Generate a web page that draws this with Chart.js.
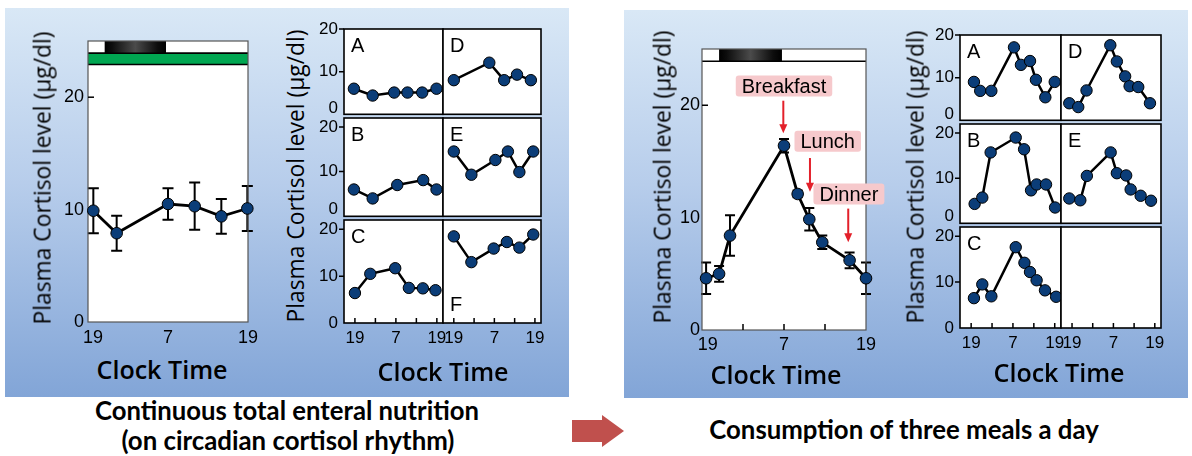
<!DOCTYPE html>
<html>
<head>
<meta charset="utf-8">
<script src="https://cdn.jsdelivr.net/npm/chart.js@4.4.1/dist/chart.umd.min.js"></script>
<style>
html,body{margin:0;padding:0;background:#fff;}
#stage{position:relative;width:1192px;height:456px;overflow:hidden;background:#fff;}
.bg{position:absolute;background:linear-gradient(to bottom,#d9e8f6 0%,#b7cdeb 45%,#82a5d7 100%);}
canvas{position:absolute;}
.txt{position:absolute;white-space:nowrap;color:#000;line-height:1;}
</style>
</head>
<body>
<div id="stage">
  <div class="bg" style="left:5px;top:8px;width:564px;height:389px"></div>
  <div class="bg" style="left:624px;top:10px;width:564px;height:388px"></div>
  <svg style="position:absolute;left:0;top:0" width="1192" height="456">
    <polygon points="572,420 602,420 602,415 624,431 602,447 602,442 572,442" fill="#c0504d"/>
  </svg>
</div>
<script>
// ---------- axes (x = hours after 19:00) ----------
const timeTickValues = [0, 6, 12, 18, 24];
const timeTickLabels = ['19', '', '7', '', '19'];
const cortisolTickValues = [0, 10, 20];
const cortisolTickLabels = ['0', '10', '20'];

// ---------- continuous total enteral nutrition: mean ± SD ----------
const enteralHours = [0.8, 4.3, 12, 16, 20, 23.9];
const enteralMean  = [9.9, 7.9, 10.5, 10.3, 9.4, 10.1];
const enteralSD    = [2.0, 1.55, 1.4, 2.1, 1.55, 2.0];
const sleepHours   = [2.5, 11.7];
const feedingHours = [0, 24];
const dayBarLevels = [23.9, 25];
const feedBarLevels = [22.9, 23.9];

// individual patients, enteral nutrition
const entAHours = [-0.3, 5.2, 11.5, 15.4, 19.7, 23.9];
const entA      = [6.0, 4.4, 5.1, 5.1, 5.1, 6.0];
const entBHours = [-0.3, 5.2, 12.4, 20, 23.9];
const entB      = [6.0, 4.0, 7.0, 8.1, 6.0];
const entCHours = [0, 4.5, 11.8, 15.8, 19.9, 23.6];
const entC      = [6.4, 10.5, 11.7, 7.5, 7.4, 7.0];
const entDHours = [0, 10.5, 14.9, 18.7, 22.8];
const entD      = [8.0, 12.1, 8.0, 9.3, 8.0];
const entEHours = [0, 5.2, 12.3, 16, 19.4, 23.5];
const entE      = [14.5, 9.3, 12.6, 14.5, 9.9, 14.5];
const entFHours = [0, 5.2, 11.8, 15.7, 19.4, 23.5];
const entF      = [18.5, 13.0, 15.9, 17.3, 16.1, 18.9];

// ---------- three meals a day: mean ± SD ----------
const mealsHours = [0.6, 2.5, 4.1, 12.0, 14.0, 15.7, 17.6, 21.6, 24];
const mealsMean  = [4.6, 5.0, 8.4, 16.4, 12.1, 9.85, 7.8, 6.2, 4.6];
const mealsSD    = [1.4, 0.7, 1.8, 0.6, 0.3, 1.0, 0.6, 0.7, 1.4];
const mealNames       = ['Breakfast', 'Lunch', 'Dinner'];
const mealLabelHours  = [12.0, 18.4, 21.5];
const mealLabelLevels = [21.7, 16.8, 12.1];
const mealArrowHours  = [11.9, 15.8, 21.4];
const mealArrowFrom   = [20.4, 15.3, 10.8];
const mealArrowTo     = [17.5, 12.3, 7.8];

// individual patients, three meals
const mealAHours = [0.8, 2.6, 5.8, 12.3, 14.3, 16.9, 18.6, 21.3, 24.0];
const mealA      = [9.0, 6.9, 6.9, 17.1, 13.0, 13.9, 9.5, 5.4, 9.0];
const mealBHours = [1.0, 3.2, 5.6, 12.8, 15.2, 17.2, 18.8, 21.5, 24.1];
const mealB      = [4.3, 5.7, 15.7, 19.0, 16.4, 7.3, 8.6, 8.6, 3.5];
const mealCHours = [0.8, 3.2, 5.8, 12.8, 15.3, 16.9, 18.8, 21.2, 24.4];
const mealC      = [6.5, 9.5, 6.9, 17.6, 14.2, 12.2, 10.4, 8.2, 6.8];
const mealDHours = [-0.8, 1.8, 4.2, 11.1, 13.0, 15.4, 16.7, 19.2, 22.6];
const mealD      = [4.0, 3.1, 7.0, 17.6, 13.8, 10.3, 8.0, 7.8, 4.0];
const mealEHours = [-0.8, 2.4, 4.3, 11.2, 13.0, 15.7, 17.0, 19.9, 22.9];
const mealE      = [5.5, 5.1, 10.5, 15.7, 11.1, 10.6, 7.5, 6.1, 5.0];

// ---------- rendering ----------
const stage = document.getElementById('stage');
Chart.defaults.color = '#000';
Chart.defaults.font.family = "'Liberation Sans', Arial, sans-serif";
Chart.defaults.animation = false;

function decoPlugin(d) {
  return {
    id: 'deco',
    beforeDraw(chart) {
      const {ctx, chartArea: a} = chart;
      ctx.save(); ctx.fillStyle = '#fff';
      ctx.fillRect(a.left, a.top, a.width, a.height); ctx.restore();
    },
    beforeDatasetsDraw(chart) {
      const {ctx, chartArea: a, scales: {x, y}} = chart;
      ctx.save();
      if (d.feed) {
        const x0 = x.getPixelForValue(d.feed.hours[0]), x1 = x.getPixelForValue(d.feed.hours[1]);
        const y0 = y.getPixelForValue(d.feed.levels[1]), y1 = y.getPixelForValue(d.feed.levels[0]);
        ctx.fillStyle = '#00a651'; ctx.fillRect(x0, y0, x1 - x0, y1 - y0);
        ctx.strokeStyle = '#000'; ctx.lineWidth = 1.5;
        ctx.beginPath(); ctx.moveTo(x0, y0); ctx.lineTo(x1, y0); ctx.moveTo(x0, y1); ctx.lineTo(x1, y1); ctx.stroke();
      }
      if (d.sleep) {
        const x0 = x.getPixelForValue(d.sleep.hours[0]), x1 = x.getPixelForValue(d.sleep.hours[1]);
        const y0 = y.getPixelForValue(d.sleep.levels[1]), y1 = y.getPixelForValue(d.sleep.levels[0]);
        const g = ctx.createLinearGradient(x0, 0, x1, 0);
        g.addColorStop(0, '#000'); g.addColorStop(0.12, '#0d0d0d'); g.addColorStop(0.5, '#4b4b4b');
        g.addColorStop(0.86, '#0d0d0d'); g.addColorStop(1, '#000');
        ctx.fillStyle = g; ctx.fillRect(x0, y0, x1 - x0, y1 - y0);
        ctx.strokeStyle = '#000'; ctx.lineWidth = 1.5;
        ctx.beginPath(); ctx.moveTo(a.left, y1); ctx.lineTo(a.right, y1); ctx.stroke();
      }
      if (d.err) {
        ctx.strokeStyle = '#000'; ctx.lineWidth = 2;
        d.err.hours.forEach((h, i) => {
          const px = x.getPixelForValue(h);
          const t = y.getPixelForValue(d.err.mean[i] + d.err.sd[i]);
          const b = y.getPixelForValue(d.err.mean[i] - d.err.sd[i]);
          ctx.beginPath();
          ctx.moveTo(px, t); ctx.lineTo(px, b);
          ctx.moveTo(px - d.err.cap, t); ctx.lineTo(px + d.err.cap, t);
          ctx.moveTo(px - d.err.cap, b); ctx.lineTo(px + d.err.cap, b);
          ctx.stroke();
        });
      }
      // frame
      ctx.strokeStyle = d.frameColor; ctx.lineWidth = d.frameWidth;
      ctx.strokeRect(a.left, a.top, a.width, a.height);
      // tick marks
      ctx.strokeStyle = '#000'; ctx.lineWidth = 1.5;
      ctx.beginPath();
      (d.xTicksIn || []).forEach(v => {
        const px = x.getPixelForValue(v);
        ctx.moveTo(px, a.bottom); ctx.lineTo(px, a.bottom - d.tickLen);
      });
      (d.yTicksIn || []).forEach(v => {
        const py = y.getPixelForValue(v);
        ctx.moveTo(a.left, py); ctx.lineTo(a.left + d.tickLen, py);
      });
      (d.yTicksOut || []).forEach(v => {
        const py = y.getPixelForValue(v);
        ctx.moveTo(a.left, py); ctx.lineTo(a.left - d.tickLen, py);
      });
      ctx.stroke();
      if (d.letter) {
        ctx.fillStyle = '#000';
        ctx.font = "20px 'Liberation Sans', Arial, sans-serif";
        ctx.textBaseline = 'alphabetic'; ctx.textAlign = 'left';
        const ly = d.letterAtBottom ? a.bottom - 12 : a.top + 23;
        ctx.fillText(d.letter, a.left + 7, ly);
      }
      ctx.restore();
    },
    afterDatasetsDraw(chart) {
      if (!d.notes) return;
      const {ctx, scales: {x, y}} = chart;
      ctx.save();
      ctx.font = "20px 'Liberation Sans', Arial, sans-serif";
      ctx.textAlign = 'center'; ctx.textBaseline = 'middle';
      d.notes.names.forEach((name, i) => {
        const ax = x.getPixelForValue(d.notes.arrowX[i]);
        const ay0 = y.getPixelForValue(d.notes.arrowFrom[i]);
        const ay1 = y.getPixelForValue(d.notes.arrowTo[i]);
        ctx.strokeStyle = '#e3202a'; ctx.fillStyle = '#e3202a'; ctx.lineWidth = 2;
        ctx.beginPath(); ctx.moveTo(ax, ay0); ctx.lineTo(ax, ay1 - 8); ctx.stroke();
        ctx.beginPath(); ctx.moveTo(ax - 4, ay1 - 9); ctx.lineTo(ax + 4, ay1 - 9); ctx.lineTo(ax, ay1); ctx.closePath(); ctx.fill();
        const cx = x.getPixelForValue(d.notes.labelX[i]);
        const cy = y.getPixelForValue(d.notes.labelY[i]);
        const w = ctx.measureText(name).width + 12, h = 21;
        ctx.fillStyle = '#f6c9cc';
        ctx.beginPath();
        if (ctx.roundRect) ctx.roundRect(cx - w / 2, cy - h / 2, w, h, 3); else ctx.rect(cx - w / 2, cy - h / 2, w, h);
        ctx.fill();
        ctx.fillStyle = '#000';
        ctx.fillText(name, cx, cy + 1);
      });
      ctx.restore();
    }
  };
}

function makeChart(o) {
  const m = o.margin, a = o.area;
  const cv = document.createElement('canvas');
  const W = a.w + m.l + m.r, H = a.h + m.t + m.b;
  cv.width = W; cv.height = H;
  cv.style.left = (a.l - m.l) + 'px'; cv.style.top = (a.t - m.t) + 'px';
  cv.style.width = W + 'px'; cv.style.height = H + 'px';
  stage.appendChild(cv);
  const datasets = o.series.map(s => ({
    data: s.x.map((xv, i) => ({x: xv, y: s.y[i]})),
    borderColor: '#000', borderWidth: o.lineWidth, tension: 0,
    pointRadius: o.radius, pointHoverRadius: o.radius,
    pointBackgroundColor: '#0b3d78', pointBorderColor: '#000', pointBorderWidth: 1,
    clip: false
  }));
  const xShift = o.firstXLabelShift || 0, yRaise = o.zeroLabelRaise || 0;
  new Chart(cv, {
    type: 'line',
    data: {datasets},
    plugins: [decoPlugin(o.deco)],
    options: {
      responsive: false, devicePixelRatio: 1, animation: false,
      events: [],
      layout: {padding: {left: o.showY ? 0 : m.l, right: m.r, top: m.t, bottom: o.showX ? 0 : m.b}},
      plugins: {legend: {display: false}, tooltip: {enabled: false}},
      scales: {
        x: {
          type: 'linear', min: o.xMin, max: o.xMax, display: o.showX,
          afterBuildTicks: s => { s.ticks = timeTickValues.map((v, i) => ({value: i === 0 ? v + xShift : v})); },
          afterFit: s => { s.height = o.showX ? m.b : 0; s.paddingLeft = 0; s.paddingRight = 0; },
          ticks: {autoSkip: false, maxRotation: 0, minRotation: 0, padding: o.xPad, color: '#000',
                  font: {size: o.fontSize},
                  callback: (v, i) => timeTickLabels[i]},
          grid: {display: false, drawTicks: false}, border: {display: false}
        },
        y: {
          type: 'linear', min: 0, max: o.yMax, display: o.showY,
          afterBuildTicks: s => { s.ticks = cortisolTickValues.map((v, i) => ({value: i === 0 ? v + yRaise : v})); },
          afterFit: s => { s.width = o.showY ? m.l : 0; s.paddingTop = 0; s.paddingBottom = 0; },
          ticks: {autoSkip: false, padding: o.yPad, font: {size: o.fontSize}, color: '#000',
                  callback: (v, i) => cortisolTickLabels[i]},
          grid: {display: false, drawTicks: false}, border: {display: false}
        }
      }
    }
  });
}

// ---- main chart: continuous enteral nutrition ----
makeChart({
  area: {l: 88, t: 41, w: 160, h: 281}, margin: {l: 40, t: 12, r: 16, b: 30},
  xMin: 0, xMax: 24, yMax: 25, showX: true, showY: true, fontSize: 18, xPad: 5, yPad: 4,
  firstXLabelShift: 0.75,
  radius: 5.8, lineWidth: 2.8,
  series: [{x: enteralHours, y: enteralMean}],
  deco: {frameColor: '#555', frameWidth: 1.2, tickLen: 6, yTicksIn: [20],
         sleep: {hours: sleepHours, levels: dayBarLevels},
         feed: {hours: feedingHours, levels: feedBarLevels},
         err: {hours: enteralHours, mean: enteralMean, sd: enteralSD, cap: 5.5}}
});

// ---- main chart: three meals ----
makeChart({
  area: {l: 702, t: 49, w: 164, h: 281}, margin: {l: 40, t: 12, r: 26, b: 30},
  xMin: 0, xMax: 24, yMax: 25, showX: true, showY: true, fontSize: 18, xPad: 4, yPad: 2,
  firstXLabelShift: 0.85,
  radius: 5.8, lineWidth: 2.8,
  series: [{x: mealsHours, y: mealsMean}],
  deco: {frameColor: '#555', frameWidth: 1.2, tickLen: 6, yTicksIn: [20], xTicksIn: [6, 12, 18],
         sleep: {hours: sleepHours, levels: dayBarLevels},
         err: {hours: mealsHours, mean: mealsMean, sd: mealsSD, cap: 5},
         notes: {names: mealNames, labelX: mealLabelHours, labelY: mealLabelLevels,
                 arrowX: mealArrowHours, arrowFrom: mealArrowFrom, arrowTo: mealArrowTo}}
});

// ---- small multiples ----
function smallPanel(area, col, row, letter, hours, vals, bottomLetter) {
  const showY = col === 0, showX = row === 2;
  makeChart({
    area, margin: {l: 30, t: 12, r: 12, b: showX ? 28 : 3},
    xMin: -3.2, xMax: 25.8, yMax: row === 0 ? 20 : 22, showX, showY, fontSize: 17, xPad: 5, yPad: 6,
    zeroLabelRaise: row === 2 ? 0 : 1.5,
    radius: 5.7, lineWidth: 2.5,
    series: hours ? [{x: hours, y: vals}] : [],
    deco: {frameColor: '#000', frameWidth: 1.6, tickLen: 5,
           yTicksOut: showY ? [10, 20] : [], xTicksIn: showX ? timeTickValues : [],
           letter, letterAtBottom: bottomLetter}
  });
}
const entCols = [{l: 344, w: 99}, {l: 443, w: 98}];
const entRows = [{t: 29, h: 89}, {t: 118, h: 102}, {t: 220, h: 103}];
const mealCols = [{l: 960, w: 101}, {l: 1061, w: 100}];
const mealRows = [{t: 35, h: 89}, {t: 124, h: 103}, {t: 227, h: 101}];
const A = (c, r) => ({l: c.l, w: c.w, t: r.t, h: r.h});

smallPanel(A(entCols[0], entRows[0]), 0, 0, 'A', entAHours, entA);
smallPanel(A(entCols[1], entRows[0]), 1, 0, 'D', entDHours, entD);
smallPanel(A(entCols[0], entRows[1]), 0, 1, 'B', entBHours, entB);
smallPanel(A(entCols[1], entRows[1]), 1, 1, 'E', entEHours, entE);
smallPanel(A(entCols[0], entRows[2]), 0, 2, 'C', entCHours, entC);
smallPanel(A(entCols[1], entRows[2]), 1, 2, 'F', entFHours, entF, true);

smallPanel(A(mealCols[0], mealRows[0]), 0, 0, 'A', mealAHours, mealA);
smallPanel(A(mealCols[1], mealRows[0]), 1, 0, 'D', mealDHours, mealD);
smallPanel(A(mealCols[0], mealRows[1]), 0, 1, 'B', mealBHours, mealB);
smallPanel(A(mealCols[1], mealRows[1]), 1, 1, 'E', mealEHours, mealE);
smallPanel(A(mealCols[0], mealRows[2]), 0, 2, 'C', mealCHours, mealC);
smallPanel(A(mealCols[1], mealRows[2]), 1, 2, '', null, null);

// ---------- text ----------
const measureCtx = document.createElement('canvas').getContext('2d');
function addText(str, cx, cy, family, weight, targetW, rotate) {
  measureCtx.font = `${weight} 100px ${family}`;
  const size = 100 * targetW / measureCtx.measureText(str).width;
  const d = document.createElement('div');
  d.className = 'txt'; d.textContent = str;
  d.style.font = `${weight} ${size.toFixed(2)}px ${family}`;
  d.style.lineHeight = '1';
  d.style.left = cx + 'px'; d.style.top = cy + 'px';
  d.style.transform = 'translate(-50%,-50%)' + (rotate ? ' rotate(-90deg)' : '');
  stage.appendChild(d);
}
const yTitle = 'Plasma Cortisol level (μg/dl)';
const xTitle = 'Clock Time';
const titleFont = "'Open Sans', 'Noto Sans', sans-serif";
const captionFont = "Lato, 'Open Sans', sans-serif";
[[43, 178], [296, 176], [663, 177], [916, 177]].forEach(p => addText(yTitle, p[0], p[1], titleFont, 400, 293, true));
[[162, 370], [443, 372], [776, 375], [1059, 373]].forEach(p => addText(xTitle, p[0], p[1], titleFont, 600, 131, false));
addText('Continuous total enteral nutrition', 287, 411, captionFont, 700, 384, false);
addText('(on circadian cortisol rhythm)', 288, 441, captionFont, 700, 333, false);
addText('Consumption of three meals a day', 904, 430, captionFont, 700, 390, false);
</script>
</body>
</html>
